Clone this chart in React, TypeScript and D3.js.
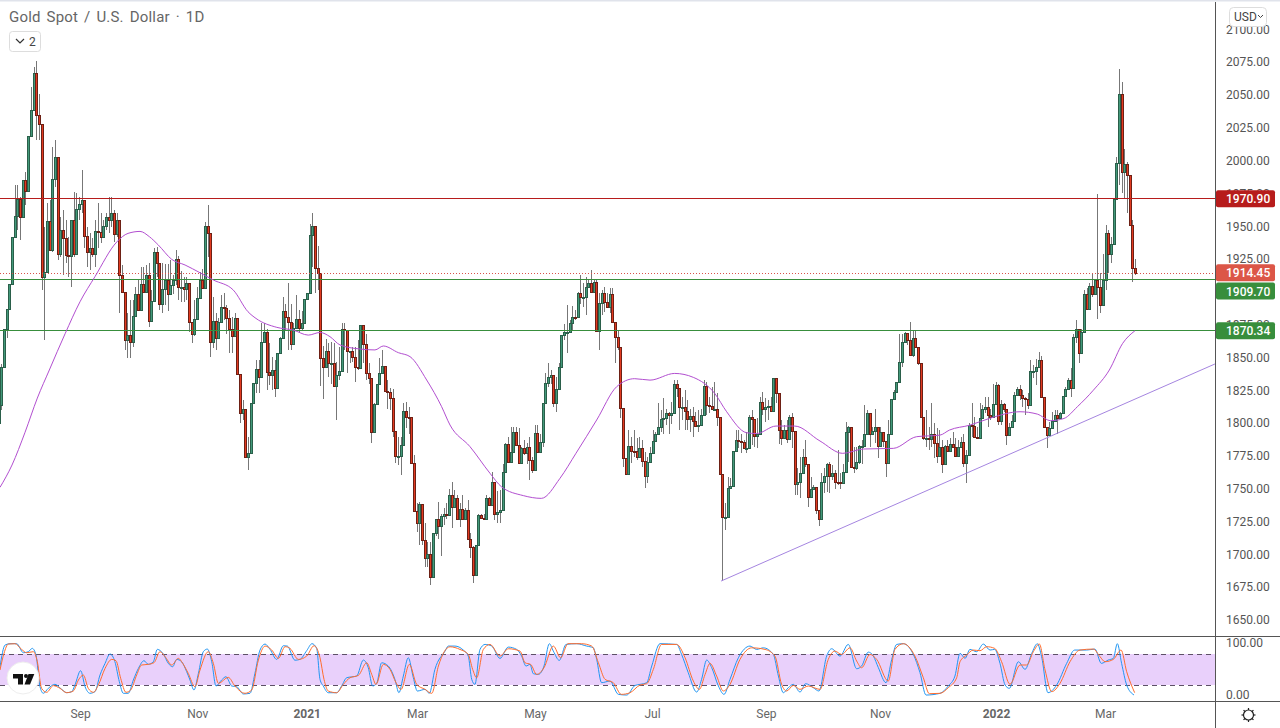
import { useEffect, useRef } from 'react'
import * as d3 from 'd3'

const closes = [
  1814,1843,1871.6,1887,1906,1942,1958,1970.4,1956.7,1985,
  1977,2019,2038.5,2066.4,2035,2027.6,1911.5,1915,1954,1932,
  1985.6,2002.4,1929,1947,1940.7,1928,1927,1954.7,1929,1962.8,
  1966.8,1970,1942.7,1930.5,1933,1928.8,1946.5,1945.8,1942,1950,
  1956.7,1954.7,1959.7,1943.7,1954.7,1912.8,1900,1863,1867,1861.4,
  1881.5,1898,1886,1905.6,1899.5,1913,1878,1893,1930,1922,
  1891,1901.8,1909,1898,1905,1909,1925,1904,1904,1902,
  1907,1877,1867.5,1879,1895,1909,1902.6,1950,1945,1862,
  1878,1865,1877,1888.6,1888,1880,1872,1866,1880,1837,
  1807.6,1810.7,1774,1777,1815,1830.5,1841,1835,1862,1869,
  1839,1836.5,1840.5,1826.7,1853,1864.5,1885,1881,1877,1860,
  1872.5,1879,1872.5,1876,1894.5,1899,1943,1950,1918,1914,
  1849.5,1842.7,1855,1845.7,1846,1828,1836.6,1840,1871.4,1871,
  1855,1855,1850.6,1843,1842,1875,1860,1838,1834,1793.4,
  1814.5,1830,1838,1843.5,1824.7,1824,1819,1794.2,1775,1775,
  1783.3,1809.4,1804.9,1804.4,1769.8,1733.2,1724,1738.3,1711,1697,1700,
  1683,1716,1726.6,1721.8,1729,1731,1730,1745,1736.3,1742.6,
  1727,1734.2,1726.6,1733.7,1712,1705.8,1684.5,1706.8,1729.7,1727.4,
  1727.1,1742.6,1737.3,1755.3,1730.7,1732,1733.7,1763,1783.8,1770.6,
  1778.2,1793,1783.3,1769.3,1780.7,1777,1781.5,1771.8,1764.2,1792.2,
  1778,1785.8,1815,1830.8,1835.3,1836.6,1815,1825.7,1843,1867,
  1869.4,1869.6,1876.5,1881,1880.6,1898.8,1896,1896,1903.4,1906.5,
  1900,1907.7,1870.4,1891.2,1899.3,1892.5,1888.7,1898,1877.3,1865.8,
  1858.2,1811.2,1773,1761,1782.7,1779,1778.5,1774.4,1781.2,1770.8,
  1759.8,1770.5,1776.9,1786.5,1791.3,1796.7,1802.8,1803.5,1808,1806,
  1807.3,1829.4,1827,1812,1812.4,1809.4,1802.8,1805.6,1801.7,1797.7,
  1798.4,1806,1828,1813.7,1813.2,1810.4,1811,1804.3,1760.9,1728.6,
  1728.6,1750.7,1752,1779,1787,1786,1785.5,1780.7,1781,1804.8,
  1802.8,1790.3,1792,1816.2,1810.4,1812.4,1813,1809.4,1834,1822.6,
  1794.6,1788.8,1794.6,1787.5,1804.3,1794,1753.5,1755.3,1761.6,1773.8,
  1768.5,1743.3,1750,1751,1733.7,1726.6,1755.3,1759.8,1768.7,1759.8,
  1761.6,1755.3,1755,1754,1762.4,1792.9,1796.7,1766.7,1765.4,1770,
  1782.7,1782.7,1792,1807.3,1792,1794,1796.7,1782.7,1792.9,1786.5,
  1769.2,1791.3,1818,1823.9,1831,1846.7,1861.4,1868.3,1863,1851.8,
  1864.5,1858,1845.4,1804.3,1788.8,1788.8,1788,1791.3,1784.5,1774.8,
  1782,1768.5,1782.7,1778.6,1783.7,1782,1774.8,1782,1785.8,1769.8,
  1776,1798.4,1797.7,1789.6,1788.8,1803.5,1811,1812,1806,1804.8,
  1814.2,1829,1801.5,1814.2,1810.4,1790.8,1797.2,1801.5,1821.3,1825.6,
  1821.3,1818.8,1818,1813.7,1840,1840,1843,1848,1820,1797.2,
  1790.8,1796.4,1801.5,1806,1804,1807.3,1820.5,1825.6,1832.7,1826.4,
  1865.3,1871.4,1853,1869.6,1898,1886.6,1904.4,1898,1909,1903.9,
  1890,1909,1945,1928.8,1936.4,1971,1997.8,2050.4,1991.5,1997,
  1989,1951,1917.8,1914.45
]

const highs = [
  1822,1845,1872,1887,1906,1942,1981,1981,1972.4,1985,
  1991.5,2019,2056,2071.5,2075.8,2051,2027.6,1949.6,1967.4,1970,
  2010.5,2015.6,2002.4,1957,1962.3,1955,1942,1955,1976,1975,
  1972.4,1992.8,1970,1949.6,1944.5,1940.7,1954.7,1967.4,1959.7,1955,
  1960,1972.4,1972.4,1962,1960,1955,1920.4,1900,1883.5,1893.7,
  1893.7,1904,1909,1919,1919,1920.4,1921.6,1901,1933,1934,
  1922,1921.6,1921,1921,1924,1913,1932,1927,1916,1911,
  1911,1907,1877,1894,1904,1915,1917,1953,1966,1945,
  1896,1883.5,1880,1897.5,1898.8,1890,1886,1881,1883.5,1880,
  1837,1817.5,1811,1789.5,1815,1830.5,1848,1848,1876,1876,
  1872,1860.7,1850.5,1848,1853,1865.7,1896,1891,1906.4,1891,
  1876,1897.5,1886,1885,1894.5,1899,1952,1959.7,1950,1935,
  1914,1859,1864,1860.7,1862,1860.7,1846.8,1858,1876,1876,
  1871,1855,1858,1858,1863,1875,1868.4,1868,1845.5,1834,
  1815,1830,1849.3,1855.7,1843,1832.8,1826.4,1826,1794,1789.6,
  1789.6,1815,1816.3,1812.5,1804,1775.6,1738.8,1740,1738,1723.6,1709.6,
  1709.6,1716,1727,1740,1731,1735,1739,1750,1755,1749,
  1745,1739,1745,1735,1741,1716,1706,1707,1731,1731,
  1731,1745,1744,1763,1755,1748,1749,1769,1784.5,1789.6,
  1797,1797,1797,1796,1782,1787,1784.5,1789.6,1774,1798.5,
  1798.5,1792,1815,1838,1845.5,1840.4,1836,1835.3,1845.5,1867,
  1875.5,1890,1878.5,1889,1886,1900,1912.8,1906.5,1911.5,1910,
  1916.6,1910,1910,1898.8,1901.4,1904,1898.8,1902.6,1902.6,1877,
  1871,1858,1811,1773,1794.7,1789.6,1794.7,1788.4,1789.6,1787,
  1778,1774.3,1782,1794.6,1793.4,1815,1810,1818.8,1811,1808.6,
  1816,1832.7,1833,1827,1820,1825,1817.5,1811,1812.4,1808.6,
  1809.9,1811,1832.7,1831.5,1820,1827.7,1831.5,1822.6,1804,1761,
  1738.8,1759,1757.8,1779,1794.6,1794.6,1792,1787,1793.4,1806,
  1809.9,1803,1803.5,1820,1823.9,1818.8,1817.5,1820,1834,1829,
  1822,1802,1798.4,1802,1806,1807.8,1794,1765.4,1774.3,1780,
  1787,1768,1759,1752.7,1751,1733,1761.6,1765.4,1769.2,1770.5,
  1768,1764,1779.4,1761.6,1769,1801,1797.7,1796,1782,1782,
  1783,1787,1813.7,1809.9,1807,1797,1810.4,1797,1797,1793.4,
  1786,1802,1818,1825,1831.5,1868,1868,1869,1868,1877,
  1870.8,1870.8,1858,1845,1804,1810,1797,1815,1799.7,1796,
  1794.6,1787,1783.2,1787,1788.3,1793.4,1788.3,1787,1789.6,1792,
  1779.4,1799.7,1815,1804.8,1797,1815,1813.7,1820,1820,1811,
  1830,1831.5,1830,1817.5,1815,1810,1799.7,1806,1823.9,1827.7,
  1829,1825,1820,1822.6,1848,1844,1849,1854,1851,1820,
  1797,1801,1808.6,1810,1810,1808.6,1820.5,1827.7,1834,1841.6,
  1868,1878.5,1872,1872,1901,1902.6,1906.4,1914,1910,1974.5,
  1914,1929,1950.8,1947,1942,1971,2003,2070,2060,2009,
  1999,1989,1954.6,1924.7
]

const lows = [
  1800,1810,1864.5,1864.5,1887,1905,1942,1947,1939.4,1964.8,
  1966,1977,2019,2038,2015.6,2015.6,1901.3,1863.2,1915,1932,
  1930,1980,1924,1926.7,1912.8,1921.6,1911.5,1904,1926.7,1929,
  1954.7,1959.7,1933,1919,1916.6,1926.7,1919,1933,1936.9,1942,
  1947,1944.5,1949.6,1938,1942,1883.5,1898.8,1855.6,1849.3,1849.3,
  1858,1881,1885,1886,1898.8,1898.8,1873.4,1877,1892,1911.5,
  1886,1883.5,1890,1885,1898,1898,1905,1894,1892,1892,
  1894,1869.6,1860.7,1866,1878.5,1895,1902,1902.6,1926.7,1850.5,
  1857,1855.6,1865,1876,1878.5,1868,1853,1853,1866,1837,
  1800,1802,1774,1764,1777,1822.6,1822.6,1822.6,1835,1862,
  1825,1829,1825,1820,1827,1853,1864.5,1870.8,1855.6,1855.6,
  1859.4,1872.6,1868.3,1871,1877.7,1894,1899,1919,1899,1901,
  1828,1818,1843,1835,1830,1828.5,1802,1832.8,1840,1855.7,
  1838,1845.5,1846.8,1831.5,1840.4,1841.7,1846,1832.8,1830,1784.5,
  1793,1813.8,1829.8,1838,1824,1811,1810,1789.6,1769.3,1768,
  1760.4,1783,1796,1792,1769.8,1733,1717,1707,1707,1690.6,1690,
  1676.6,1683,1714,1712,1699,1722,1727,1736,1720,1736,
  1726,1721,1726,1726,1712,1697,1678,1684,1707,1727,
  1726.6,1727,1737,1737,1726,1723.6,1723.6,1733,1763,1770,
  1770,1778,1783,1769,1769,1775.6,1769,1756.6,1761.7,1764,
  1778,1778,1782,1815,1827.7,1830,1812.5,1808.7,1825,1843,
  1863,1853,1869,1871,1878.5,1880,1891,1888.7,1882.3,1903,
  1900,1900,1870.4,1855.7,1882,1884.9,1888,1883.6,1876,1845.5,
  1855.7,1803.6,1766.8,1761,1761,1769.3,1774.4,1772,1774,1766.7,
  1750.7,1754,1770,1777,1786,1790.8,1793.4,1792,1798.4,1792,
  1799,1807,1820,1794.6,1802,1794.6,1794.6,1793.4,1789.6,1796.7,
  1793.4,1798,1806,1806,1807.3,1810,1809.9,1797.7,1760.9,1680,
  1718.4,1728,1750,1752,1779,1780.7,1776.9,1780,1776.9,1781,
  1783.2,1782,1780.7,1792,1806,1801,1802,1808.6,1809.9,1815,
  1783.7,1783.2,1788.3,1784.5,1793.4,1780.7,1745,1745,1742.6,1761,
  1766.7,1736,1743,1750,1731,1721.5,1726,1746.4,1747.6,1746.4,
  1756.5,1750,1752.7,1750,1754,1762,1770.5,1766,1761.6,1764,
  1769,1769,1782,1792,1782,1791,1784.5,1773,1782,1782,
  1759,1769,1791,1818,1824,1831,1843,1861,1859.4,1851,
  1850.5,1858,1844,1803.5,1787,1782,1779.4,1782,1773,1769.2,
  1774,1762,1768,1778,1778,1780.7,1774,1774.8,1782,1766.7,
  1754,1776,1789.6,1788.3,1788,1788,1803,1807.3,1797.2,1802,
  1803.5,1814,1798.4,1798.4,1808.6,1783.2,1790,1797,1801,1821,
  1817.5,1812.4,1806,1811,1813,1834,1829,1843,1820,1797,
  1780.7,1790,1796,1801,1792,1803,1807,1820,1825,1820,
  1826,1860.7,1845.4,1853,1869,1886,1886,1896,1897.5,1879,
  1883.5,1890,1901.3,1914,1921.6,1936,1971,1981.3,1975,1971.2,
  1959.7,1951,1907.7,1912.7
]

// moving average, read at the slots where it bends
const maSlots = [0,4.5,9.4,14,18.5,24.4,30,35.6,43.8,48,52.5,56,59.4,64.4,69.4,75,80,87.5,93,96,103.8,110,115.6,
  120,123.75,127.5,135,140.6,143.75,149.4,153.75,160,165.6,168.75,176.25,183.75,188,196.25,203,210,216,223.75,231.25,
  238,243.75,253,260,268,272.5,280,283.75,291,298,307.5,316,323.75,335,343.75,352.5,
  356,363.75,371,382.5,389,394,399,404,410,416,421,425.6]
const maValues = [1751,1768,1793,1819,1840.4,1868,1892.4,1911.5,1938,1944.5,1946,1942,1935.6,1924.7,1920.4,1914.5,1909,1901.3,1884.8,1879.7,1872.9,1870.8,1867,
  1869,1865.8,1859.5,1856.4,1855.7,1858.7,1853.6,1850.6,1832.8,1812.5,1798.5,1782,1761.7,1751.5,1744.7,1742.6,1757.9,1777,1802.3,1827.7,
  1833.8,1832.7,1837.8,1834.8,1822.6,1808.6,1792.6,1792,1797.7,1797.7,1786.3,1776.9,1780.2,1780.7,1789.6,1790.8,
  1794.6,1798.4,1803.5,1808.6,1806.8,1801.8,1803.5,1812.4,1825,1840.4,1860.7,1870.3]

// stochastic fast line (blue)
const fastSlots = [0,1.9,3.75,6.25,8.75,10.6,12.1,13.5,15,16.25,18.1,20.6,23.1,25,26.9,28.1,30.25,31.9,33.75,35.6,37.5,39.4,41.25,43.1,44.75,46.25,48.1,50,51.9,54,55.6,57.5,59,61.25,63.1,64.75,66.25,68.1,70,71.25,72.75,74.4,76.25,77.75,79.4,81,83.1,84.75,86.9,88.75,91.25,93.75,95.6,97.5,99.4,101.25,103.75,106.25,107.75,110.6,112.5,115,117,118.75,
  120,121.25,123.1,126.25,128.1,130,133.75,136.25,138.1,139.75,141.25,143.1,145.6,148.1,149.6,151.25,153.1,155,156.5,159.4,161,163.1,166.9,168.1,170.6,173.75,175.6,176.9,178.1,180,181.9,184.4,187.5,190.6,193.75,195.6,197.25,198.75,200,201.9,204,206,207.5,209.75,212.25,216.25,220,222.5,223.75,225.6,228.75,231.9,235,238.1,
  240,242.5,244.4,247.5,253.75,255.6,258.1,261.25,263.1,265,266.9,269.4,271.5,273.75,276.9,281.25,283.75,286.25,290,291.9,293.75,295.6,297.5,300,302.1,305,307.1,310,311.9,315,318.1,321.25,323.1,325.6,327.5,329.4,332.25,334.4,336.25,338.75,342.5,345,347.25,352.5,355.6,358.1,
  360,361.9,363.75,366.25,368.75,371.25,373,375,376.9,378.5,381.9,384.4,386.9,389,390.6,393,396.25,400,403,407.5,410.6,413,415.6,417.5,419,420.6,422.5,425.25]
const fastValues = [55.4,97.4,100,100,82.5,84.5,90.9,78,16.7,3.9,13.5,21.3,11.6,5.1,7,20,47.7,16.7,3.9,7,39.3,61.9,80,65,26.4,3.9,3.9,29.6,52.2,67,60,65,89,80,62,55.4,69.6,65,45.8,29.6,10.3,42.5,84.5,89.6,65,18,29.6,36,18,16.7,2.6,3.9,42.5,87.7,99.3,89,69.6,96,95.4,68,69.6,86.4,100,91,
  30.9,18,5,5,18,34,37.3,68.3,53.4,18,23,63,56.7,30.9,5,37.3,72.8,34,8.3,11.5,3.8,50.2,85.7,95.4,95.4,87.6,76,30.9,21.2,88.9,98.6,95.4,71.5,93.4,88.9,76,56.7,59.9,41.8,40.5,56.7,100,85.7,67.6,98.6,100,95.4,92,69.6,24.4,27.6,1.8,0.5,19,
  21.2,24.4,56.7,100,98.6,79.2,43.8,6.3,30.9,68.3,53.4,18,1.8,30.9,72.8,95.4,88.9,92,79.2,37.3,5,14.7,21.2,6.3,22.5,14.7,8.3,76,90.2,76,98.6,51.5,56.7,83.7,76,53.4,24.4,69.6,98.6,100,79.2,43.8,0.5,3.8,18,37.3,
  81.3,71.6,89,84.5,99.3,87.7,89,61.9,20,13.5,65,50.3,81.3,100,74.8,5.1,20,61.9,87.7,87.7,89.6,61.9,68.4,71.6,100,61.9,20,0.6]

// stochastic slow line (orange)
const slowSlots = [0,1.5,3.1,5.6,8.1,10,12.5,14,15.6,17.5,20,22.5,25,27.5,29.4,31.25,33.1,35,36.9,39.4,41.9,43.5,45.25,47.25,49,51.25,53.1,55.6,57.75,60,62.1,64.4,66.9,68.5,70.6,73.1,75,78.1,80,81.9,85.6,88.1,91.9,94.4,96.9,99.4,101.9,104.4,106.9,108.75,111.9,115,117.75,
  120,121.5,123.1,126.25,128.75,131.25,134.4,137.5,139.4,141,143.75,146.25,148.5,150.4,153.5,156.25,159.4,161.9,164.4,168.75,172.5,175.6,177.25,178.75,181.25,183.75,187.5,190.6,195,196.9,199,201.25,204,207.5,210.25,213,218,221.9,224.4,226.9,230,233,236.25,
  240,242.5,245,248.1,253.75,256.9,260,262.25,264.4,266.25,268.75,271.25,273.75,277.5,281.9,286.9,290.6,293.1,295,297.5,300,303.1,307.5,310.6,313.1,315.6,318.75,321.25,323.1,326.25,328.75,333.1,335.6,338.75,343.1,346.25,348.5,352.5,355.6,358.75,
  360,362.5,365,367.5,370,373,375.6,378.75,382.5,385,387.5,389.75,391.9,394.4,397.5,401.25,405,410,412.5,414.4,417.5,420.4,422.5,425.5]
const slowValues = [49,81.3,99.3,100,89,82.5,84.5,65,13.5,5.8,18.7,13.5,5.1,8.4,29.6,39.3,13.5,5.8,20,52.2,69.6,67,32.9,5.8,10.3,39.3,58.7,60,63.2,84.5,73.5,58.7,71.6,62,42.5,16.7,49,84.5,62,23.2,34.8,18,3.9,10.3,68.4,95.4,87.7,71.6,94.2,90.9,69.6,76,96,
  72.8,30.9,8.3,5,21.2,34,38.6,63,40.5,21.2,59.9,50.2,24.4,11.5,59.9,21.2,11.5,3.8,56.7,94,88.9,79.2,50.2,34,88.9,98.6,76,90.2,85.7,63,59.9,40.5,53.4,95.4,72.8,100,100,95.4,63,30.9,24.4,1.8,5,
  19.9,22.5,50.2,98.6,98.6,72.8,27.6,11.5,40.5,61.8,37.3,8.3,21.2,69.6,92,88.9,76,21.2,8.3,19.2,11.5,18,11.5,69.6,85.7,79.2,92,66.3,53.4,79.2,69.6,27.6,88.9,100,76,34,3.1,3.8,14.7,34,
  65.1,78,87.7,86.4,94.2,90.9,65.1,21.3,58.7,58.7,84.5,99.3,49,7.1,23.2,65.1,87.7,89.6,74.8,65.1,69.6,87.7,45.8,5.1]

const priceTicks = [1650,1675,1700,1725,1750,1775,1800,1825,1850,1875,1900,1925,1950,1975,2000,2025,2050,2075,2100]
const timeSlots = [30,74,115,156.4,200.6,244.5,287.2,330,373.5,414.4]
const timeLabels = ['Sep','Nov','2021','Mar','May','Jul','Sep','Nov','2022','Mar']
const trendSlots = [270.4,455.6]
const trendPrices = [1679.6,1845]
const levels = [
  { price: 1970.9, color: '#b71c1c' },
  { price: 1909.7, color: '#388e3c' },
  { price: 1870.34, color: '#388e3c' }
]
const lastPrice = 1914.45

const W = 1280
const H = 728
const axisX = 1215
const paneBottom = 636
const oscBottom = 701

export default function App() {
  const svgRef = useRef<SVGSVGElement>(null)

  useEffect(() => {
    if (!svgRef.current) return
    document.body.style.margin = '0'

    const svg = d3.select(svgRef.current)
    svg.selectAll('*').remove()

    const x = d3.scaleLinear().domain([0, 426]).range([0, 1136])
    const barX = d3.scaleLinear().domain([0, closes.length - 1]).range([-1.3, 1135])
    const y = d3.scaleLinear().domain([1650, 2100]).range([619.9, 29.3])
    const oscY = d3.scaleLinear().domain([0, 100]).range([695.3, 643.7])

    svg.append('rect').attr('width', W).attr('height', H).attr('fill', '#fff')
    svg.append('rect').attr('width', W).attr('height', 1.5).attr('fill', '#e0e3eb')

    const defs = svg.append('defs')
    defs.append('clipPath').attr('id', 'price-clip').append('rect')
      .attr('x', 0).attr('y', 2).attr('width', axisX).attr('height', paneBottom - 2)
    defs.append('clipPath').attr('id', 'osc-clip').append('rect')
      .attr('x', 0).attr('y', paneBottom).attr('width', axisX).attr('height', oscBottom - paneBottom)

    // Price pane
    const pane = svg.append('g').attr('clip-path', 'url(#price-clip)')

    const candles = pane.append('g').attr('shape-rendering', 'crispEdges')
    closes.forEach((close, i) => {
      const open = i === 0 ? 1800 : closes[i - 1]
      const up = close >= open
      const cx = Math.round(barX(i))
      candles.append('line')
        .attr('x1', cx + 0.5)
        .attr('x2', cx + 0.5)
        .attr('y1', y(highs[i]))
        .attr('y2', y(lows[i]))
        .attr('stroke', '#777')
      const top = Math.round(y(Math.max(open, close)))
      const bottom = Math.round(y(Math.min(open, close)))
      candles.append('rect')
        .attr('x', cx - 0.5)
        .attr('y', top + 0.5)
        .attr('width', 2)
        .attr('height', Math.max(bottom - top, 1))
        .attr('fill', up ? '#43997a' : '#e23a20')
        .attr('stroke', up ? '#2a5f4a' : '#6d2015')
    })

    pane.selectAll('line.level')
      .data(levels)
      .enter()
      .append('line')
      .attr('class', 'level')
      .attr('x1', 0)
      .attr('x2', axisX)
      .attr('y1', d => Math.floor(y(d.price)) + 0.5)
      .attr('y2', d => Math.floor(y(d.price)) + 0.5)
      .style('stroke', d => d.color)
      .style('stroke-width', 1.2)

    pane.append('line')
      .attr('x1', 0)
      .attr('x2', axisX)
      .attr('y1', Math.round(y(lastPrice)) + 0.5)
      .attr('y2', Math.round(y(lastPrice)) + 0.5)
      .style('stroke', '#d9534a')
      .attr('stroke-dasharray', '1 2')

    const maLine = d3.line<number>()
      .x((_, i) => x(maSlots[i]))
      .y(d => y(d))
      .curve(d3.curveMonotoneX)
    pane.append('path')
      .attr('d', maLine(maValues))
      .attr('fill', 'none')
      .attr('stroke', '#b24fd0')
      .attr('stroke-width', 1)

    pane.append('line')
      .attr('x1', x(trendSlots[0]))
      .attr('x2', x(trendSlots[1]))
      .attr('y1', y(trendPrices[0]))
      .attr('y2', y(trendPrices[1]))
      .attr('stroke', '#a585e0')
      .attr('stroke-width', 1)

    // Oscillator pane
    const osc = svg.append('g').attr('clip-path', 'url(#osc-clip)')
    osc.append('rect')
      .attr('x', 0)
      .attr('width', axisX)
      .attr('y', oscY(80))
      .attr('height', oscY(20) - oscY(80))
      .attr('fill', '#e9d0fb')
    ;[80, 20].forEach(v => {
      osc.append('line')
        .attr('x1', 0)
        .attr('x2', axisX)
        .attr('y1', Math.round(oscY(v)) + 0.5)
        .attr('y2', Math.round(oscY(v)) + 0.5)
        .attr('stroke', '#5d5066')
        .attr('stroke-dasharray', '5 4')
    })
    const drawOsc = (slots: number[], values: number[], color: string) => {
      const line = d3.line<number>()
        .x((_, i) => x(slots[i]))
        .y(d => oscY(d))
        .curve(d3.curveMonotoneX)
      osc.append('path')
        .attr('d', line(values))
        .attr('fill', 'none')
        .attr('stroke', color)
        .attr('stroke-width', 1)
    }
    drawOsc(fastSlots, fastValues, '#2196f3')
    drawOsc(slowSlots, slowValues, '#ff6d2e')

    // Logo
    const logo = svg.append('g')
    logo.append('circle').attr('cx', 23).attr('cy', 678).attr('r', 16).attr('fill', '#fff').attr('stroke', '#eee')
    logo.append('rect').attr('x', 13).attr('y', 674).attr('width', 10).attr('height', 4.5).attr('fill', '#111')
    logo.append('rect').attr('x', 18).attr('y', 674).attr('width', 5).attr('height', 10.5).attr('fill', '#111')
    logo.append('circle').attr('cx', 26).attr('cy', 676).attr('r', 2).attr('fill', '#111')
    logo.append('polygon').attr('points', '28.5,674 34.3,674 30,684.5 24.5,684.5').attr('fill', '#111')

    // Frame
    const frameColor = '#555'
    svg.append('line').attr('x1', axisX + 0.5).attr('x2', axisX + 0.5).attr('y1', 2).attr('y2', H).attr('stroke', frameColor)
    svg.append('line').attr('x1', 0).attr('x2', W).attr('y1', paneBottom + 0.5).attr('y2', paneBottom + 0.5).attr('stroke', frameColor)
    svg.append('line').attr('x1', 0).attr('x2', W).attr('y1', oscBottom + 0.5).attr('y2', oscBottom + 0.5).attr('stroke', frameColor)

    // Axes
    const font = 'Roboto, sans-serif'
    const priceAxis = d3.axisRight(y)
      .tickValues(priceTicks)
      .tickSize(0)
      .tickPadding(10)
      .tickFormat(d => d3.format('.2f')(d as number))
    const priceG = svg.append('g').attr('transform', `translate(${axisX + 1},0)`).call(priceAxis)
    priceG.select('.domain').remove()
    priceG.selectAll('text').attr('font-family', font).attr('font-size', 12).attr('fill', '#555')

    const oscAxis = d3.axisRight(oscY)
      .tickValues([0, 100])
      .tickSize(0)
      .tickPadding(10)
      .tickFormat(d => d3.format('.2f')(d as number))
    const oscG = svg.append('g').attr('transform', `translate(${axisX + 1},-1)`).call(oscAxis)
    oscG.select('.domain').remove()
    oscG.selectAll('text').attr('font-family', font).attr('font-size', 12).attr('fill', '#555')

    const timeAxis = d3.axisBottom(x)
      .tickValues(timeSlots)
      .tickSize(0)
      .tickPadding(8)
      .tickFormat((_, i) => timeLabels[i])
    const timeG = svg.append('g').attr('transform', `translate(0,${oscBottom})`).call(timeAxis)
    timeG.select('.domain').remove()
    timeG.selectAll('text')
      .attr('font-family', font)
      .attr('font-size', 12)
      .attr('fill', '#666')
      .attr('font-weight', (_, i) => (timeLabels[i].length === 4 ? 700 : 400))

    // Price tags
    const tags = [
      ...levels.filter(d => d.price !== 1909.7).map(d => ({ ...d, offset: 0 })),
      { price: lastPrice, color: '#dc5647', offset: 0 },
      { price: 1909.7, color: '#388e3c', offset: 12 }
    ]
    tags.forEach(tag => {
      const ty = y(tag.price) + tag.offset
      svg.append('rect')
        .attr('x', axisX + 1)
        .attr('y', ty - 8.5)
        .attr('width', 59)
        .attr('height', 17)
        .attr('rx', 2)
        .attr('fill', tag.color)
      svg.append('text')
        .attr('x', axisX + 11)
        .attr('y', ty + 4.5)
        .attr('font-family', font)
        .attr('font-size', 12)
        .attr('font-weight', 500)
        .attr('fill', '#fff')
        .text(tag.price.toFixed(2))
    })

    // Title and buttons
    svg.append('text')
      .attr('x', 9)
      .attr('y', 22)
      .attr('font-family', font)
      .attr('font-size', 15)
      .attr('word-spacing', 2)
      .attr('letter-spacing', 0.2)
      .attr('fill', '#666')
      .text('Gold Spot / U.S. Dollar · 1D')
    svg.append('rect')
      .attr('x', 9.5).attr('y', 31.5).attr('width', 31).attr('height', 20).attr('rx', 3)
      .attr('fill', '#fff').attr('stroke', '#ddd')
    svg.append('path')
      .attr('d', 'M16 39 l4 4 l4 -4')
      .attr('fill', 'none')
      .attr('stroke', '#333')
      .attr('stroke-width', 1.2)
    svg.append('text')
      .attr('x', 29).attr('y', 46)
      .attr('font-family', font).attr('font-size', 12).attr('fill', '#444')
      .text('2')

    svg.append('rect')
      .attr('x', 1229.5).attr('y', 7.5).attr('width', 37).attr('height', 19).attr('rx', 4)
      .attr('fill', '#fff').attr('stroke', '#ddd')
    svg.append('text')
      .attr('x', 1234).attr('y', 21)
      .attr('font-family', font).attr('font-size', 12).attr('fill', '#444')
      .text('USD')
    svg.append('path')
      .attr('d', 'M1258 15 l2.5 2.5 l2.5 -2.5')
      .attr('fill', 'none')
      .attr('stroke', '#444')

    // Settings icon
    const gear = svg.append('g').attr('transform', 'translate(1248.5,715)')
    gear.append('circle').attr('r', 5).attr('fill', 'none').attr('stroke', '#222').attr('stroke-width', 1.2)
    d3.range(8).forEach(i => {
      const a = (i * Math.PI) / 4
      gear.append('line')
        .attr('x1', Math.cos(a) * 5)
        .attr('y1', Math.sin(a) * 5)
        .attr('x2', Math.cos(a) * 7)
        .attr('y2', Math.sin(a) * 7)
        .attr('stroke', '#222')
        .attr('stroke-width', 1.2)
    })
  }, [])

  return <svg ref={svgRef} width={W} height={H} style={{ display: 'block' }} />
}
